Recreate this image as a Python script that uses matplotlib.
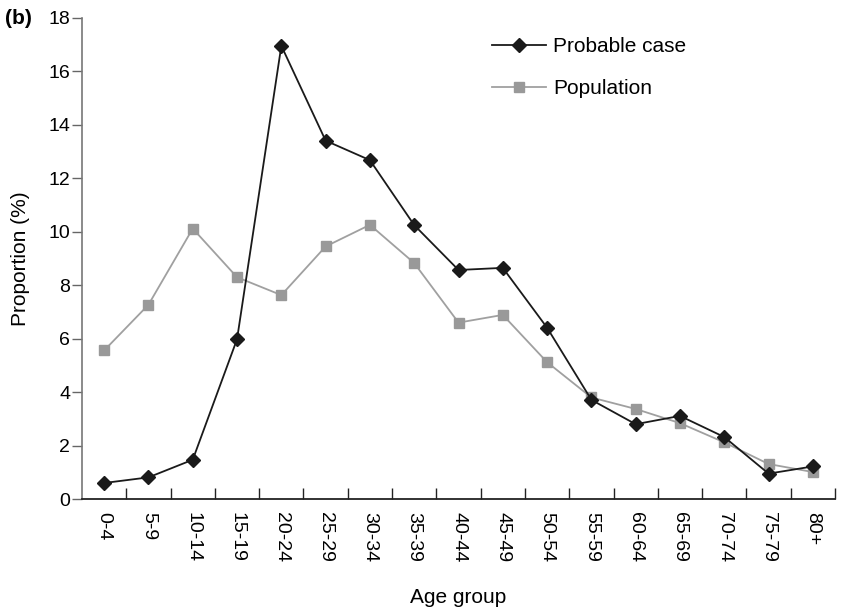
import numpy as np
import matplotlib.pyplot as plt

plt.rcParams['font.family'] = ['Liberation Sans', 'DejaVu Sans']

age_groups = ["0-4", "5-9", "10-14", "15-19", "20-24", "25-29", "30-34", "35-39",
              "40-44", "45-49", "50-54", "55-59", "60-64", "65-69", "70-74", "75-79", "80+"]
probable_case = [0.60, 0.81, 1.47, 5.98, 16.96, 13.41, 12.68, 10.25,
                 8.57, 8.65, 6.41, 3.71, 2.80, 3.11, 2.32, 0.95, 1.22]
population = [5.56, 7.27, 10.12, 8.30, 7.63, 9.45, 10.26, 8.83,
              6.60, 6.89, 5.12, 3.80, 3.37, 2.84, 2.12, 1.31, 1.01]

fig = plt.figure(figsize=(8.42, 6.12), dpi=100)
ax = fig.add_axes([0.0974, 0.1846, 0.8943, 0.786])

x = np.arange(len(age_groups))
ax.plot(x, probable_case, color='#1a1a1a', lw=1.3, marker='D', markersize=7,
        markerfacecolor='#1a1a1a', markeredgecolor='#1a1a1a', label='Probable case', zorder=3)
ax.plot(x, population, color='#a0a0a0', lw=1.3, marker='s', markersize=7.5,
        markerfacecolor='#999999', markeredgecolor='#999999', label='Population', zorder=2)

ax.set_xlim(-0.5, len(age_groups) - 0.5)
ax.set_ylim(0, 18)
ax.set_yticks(range(0, 19, 2))
ax.set_xticks(x)
ax.set_xticklabels(age_groups, rotation=270, fontsize=14)
ax.set_xticks(x + 0.5, minor=True)
ax.tick_params(axis='x', which='major', length=0, pad=9)
ax.tick_params(axis='x', which='minor', direction='in', length=8, width=1, color='#222222')
ax.tick_params(axis='y', direction='out', length=7, width=1, labelsize=14, color='#666666', pad=1.5)

for side in ['top', 'right']:
    ax.spines[side].set_visible(False)
ax.spines['left'].set_color('#777777')
ax.spines['left'].set_linewidth(1.2)
ax.spines['bottom'].set_color('#222222')
ax.spines['bottom'].set_linewidth(1.3)

ax.set_xlabel('Age group', fontsize=15, va='center')
ax.xaxis.set_label_coords(0.5, -0.204)
ax.set_ylabel('Proportion (%)', fontsize=15, va='center')
ax.yaxis.set_label_coords(-0.0823, 0.5)

ax.legend(loc='upper left', bbox_to_anchor=(0.5445, 0.96), frameon=False, fontsize=15,
          handlelength=2.6, labelspacing=1.1, handletextpad=0.33,
          borderpad=0, borderaxespad=0)

fig.text(0.006, 1 - 18 / 612, '(b)', fontsize=15, fontweight='bold', va='center')

fig.savefig('out.png', dpi=100)
